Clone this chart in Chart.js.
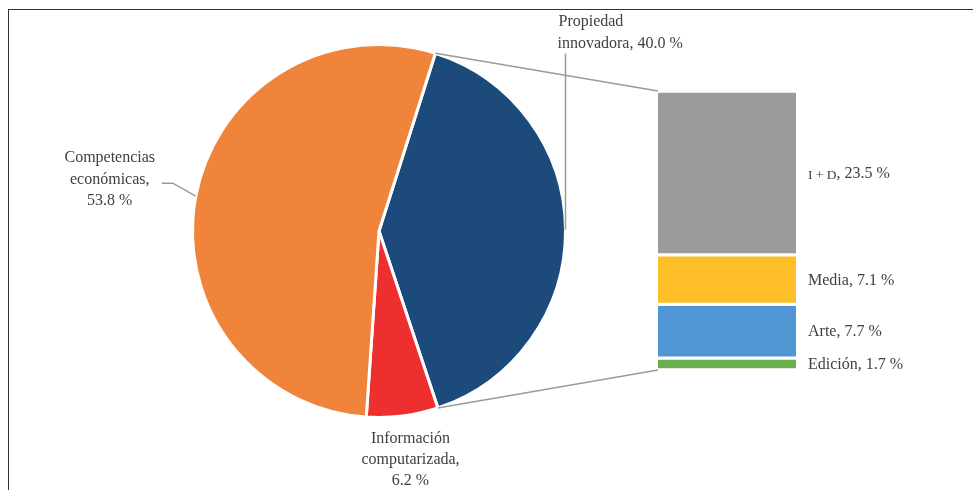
<!DOCTYPE html>
<html><head><meta charset="utf-8">
<script src="https://cdn.jsdelivr.net/npm/chart.js@4.4.0/dist/chart.umd.min.js"></script>
<style>
html,body{margin:0;padding:0;background:#fff;}
#wrap{position:relative;width:973px;height:490px;overflow:hidden;background:#fff;}
#frame{position:absolute;left:8px;top:9px;width:1000px;height:600px;border-top:1.5px solid #333;border-left:1.5px solid #333;}
canvas{position:absolute;left:0;top:0;}
</style></head><body>
<div id="wrap"><div id="frame"></div>
<canvas id="pie" width="973" height="490"></canvas>
<canvas id="bar" width="973" height="490"></canvas>
</div>
<script>
// ---- data ----
const pieCategories = ['Propiedad innovadora', 'Información computarizada', 'Competencias económicas'];
const pieValues = [40.0, 6.2, 53.8];
const pieColors = ['#1B4A7B', '#EE2F2F', '#F0843B'];
const barCategories = ['Edición', 'Arte', 'Media', 'I + D'];
const barValues = [1.7, 7.7, 7.1, 23.5];
const barColors = ['#6AAE4F', '#4F96D3', '#FDBE27', '#999B9C'];

const FONT = "16px 'Liberation Serif', 'DejaVu Serif', serif";
const TEXT = '#404040';
const LINE = '#9a9a9a';
const pct = v => v.toFixed(1) + ' %';

const pieLabelLines = [
  ['Propiedad', 'innovadora, ' + pct(pieValues[0])],
  ['Información', 'computarizada,', pct(pieValues[1])],
  ['Competencias', 'económicas,', pct(pieValues[2])]
];

function midPoint(arc) {
  const p = arc.getProps(['x', 'y', 'startAngle', 'endAngle', 'outerRadius'], true);
  const m = (p.startAngle + p.endAngle) / 2;
  return {x: p.x + Math.cos(m) * p.outerRadius, y: p.y + Math.sin(m) * p.outerRadius, p};
}

const pieLabelPlugin = {
  id: 'pieLabels',
  afterDraw(chart) {
    const ctx = chart.ctx;
    const arcs = chart.getDatasetMeta(0).data;
    ctx.save();
    ctx.font = FONT;
    ctx.fillStyle = TEXT;
    ctx.strokeStyle = LINE;
    ctx.lineWidth = 1.5;
    ctx.textBaseline = 'middle';
    // Propiedad innovadora
    let a = midPoint(arcs[0]);
    const topY = a.p.y - a.p.outerRadius;
    ctx.beginPath(); ctx.moveTo(a.x, a.y); ctx.lineTo(a.x, topY + 9); ctx.stroke();
    ctx.textAlign = 'left';
    ctx.fillText(pieLabelLines[0][0], a.x - 7, topY - 23);
    ctx.fillText(pieLabelLines[0][1], a.x - 8, topY - 1);
    // Información computarizada
    a = midPoint(arcs[1]);
    ctx.textAlign = 'center';
    pieLabelLines[1].forEach((t, i) => ctx.fillText(t, a.x + 8, a.y + 23 + i * 21));
    // Competencias económicas
    a = midPoint(arcs[2]);
    const ex = a.x - 23, ey = a.y - 13;
    ctx.beginPath(); ctx.moveTo(a.x, a.y); ctx.lineTo(ex, ey); ctx.lineTo(ex - 11, ey); ctx.stroke();
    pieLabelLines[2].forEach((t, i) => ctx.fillText(t, ex - 63, ey - 25 + i * 21.5));
    ctx.restore();
  }
};

const pieChart = new Chart(document.getElementById('pie'), {
  type: 'pie',
  data: {
    labels: pieCategories,
    datasets: [{data: pieValues, backgroundColor: pieColors, borderColor: '#ffffff', borderWidth: 3}]
  },
  options: {
    responsive: false,
    animation: false,
    rotation: 17.6,
    layout: {padding: {left: 191, right: 406, top: 43, bottom: 71}},
    plugins: {legend: {display: false}, tooltip: {enabled: false}}
  },
  plugins: [pieLabelPlugin]
});

const barLabelPlugin = {
  id: 'barLabels',
  afterDraw(chart) {
    const ctx = chart.ctx;
    ctx.save();
    ctx.font = FONT;
    ctx.fillStyle = TEXT;
    ctx.textBaseline = 'middle';
    ctx.textAlign = 'left';
    barCategories.forEach((c, i) => {
      const el = chart.getDatasetMeta(i).data[0];
      const x = el.x + el.width / 2 + 12;
      const y = (el.y + el.base) / 2 + 1;
      if (c === 'I + D') {
        ctx.font = "13.5px 'Liberation Serif', 'DejaVu Serif', serif";
        ctx.fillText(c, x, y + 1);
        const w = ctx.measureText(c).width;
        ctx.font = FONT;
        ctx.fillText(', ' + pct(barValues[i]), x + w, y);
      } else {
        ctx.fillText(c + ', ' + pct(barValues[i]), x, y);
      }
    });
    // connector lines from pie slice to bar
    const arc = pieChart.getDatasetMeta(0).data[0].getProps(['x', 'y', 'startAngle', 'endAngle', 'outerRadius'], true);
    const topEl = chart.getDatasetMeta(barCategories.length - 1).data[0];
    const botEl = chart.getDatasetMeta(0).data[0];
    const left = topEl.x - topEl.width / 2;
    ctx.strokeStyle = LINE;
    ctx.lineWidth = 1.5;
    ctx.beginPath();
    ctx.moveTo(arc.x + Math.cos(arc.startAngle) * arc.outerRadius, arc.y + Math.sin(arc.startAngle) * arc.outerRadius);
    ctx.lineTo(left, topEl.y);
    ctx.moveTo(arc.x + Math.cos(arc.endAngle) * arc.outerRadius, arc.y + Math.sin(arc.endAngle) * arc.outerRadius);
    ctx.lineTo(left, botEl.base);
    ctx.stroke();
    ctx.restore();
  }
};

new Chart(document.getElementById('bar'), {
  type: 'bar',
  data: {
    labels: [''],
    datasets: barCategories.map((c, i) => ({
      label: c,
      data: [barValues[i]],
      backgroundColor: barColors[i],
      borderColor: '#ffffff',
      borderWidth: {top: 2, bottom: 2, left: 0, right: 0},
      borderSkipped: false,
      barPercentage: 1,
      categoryPercentage: 1
    }))
  },
  options: {
    responsive: false,
    animation: false,
    layout: {padding: {left: 658, right: 177, top: 91, bottom: 120}},
    scales: {
      x: {display: false, stacked: true},
      y: {display: false, stacked: true, min: 0, max: 40}
    },
    plugins: {legend: {display: false}, tooltip: {enabled: false}}
  },
  plugins: [barLabelPlugin]
});
</script>
</body></html>
